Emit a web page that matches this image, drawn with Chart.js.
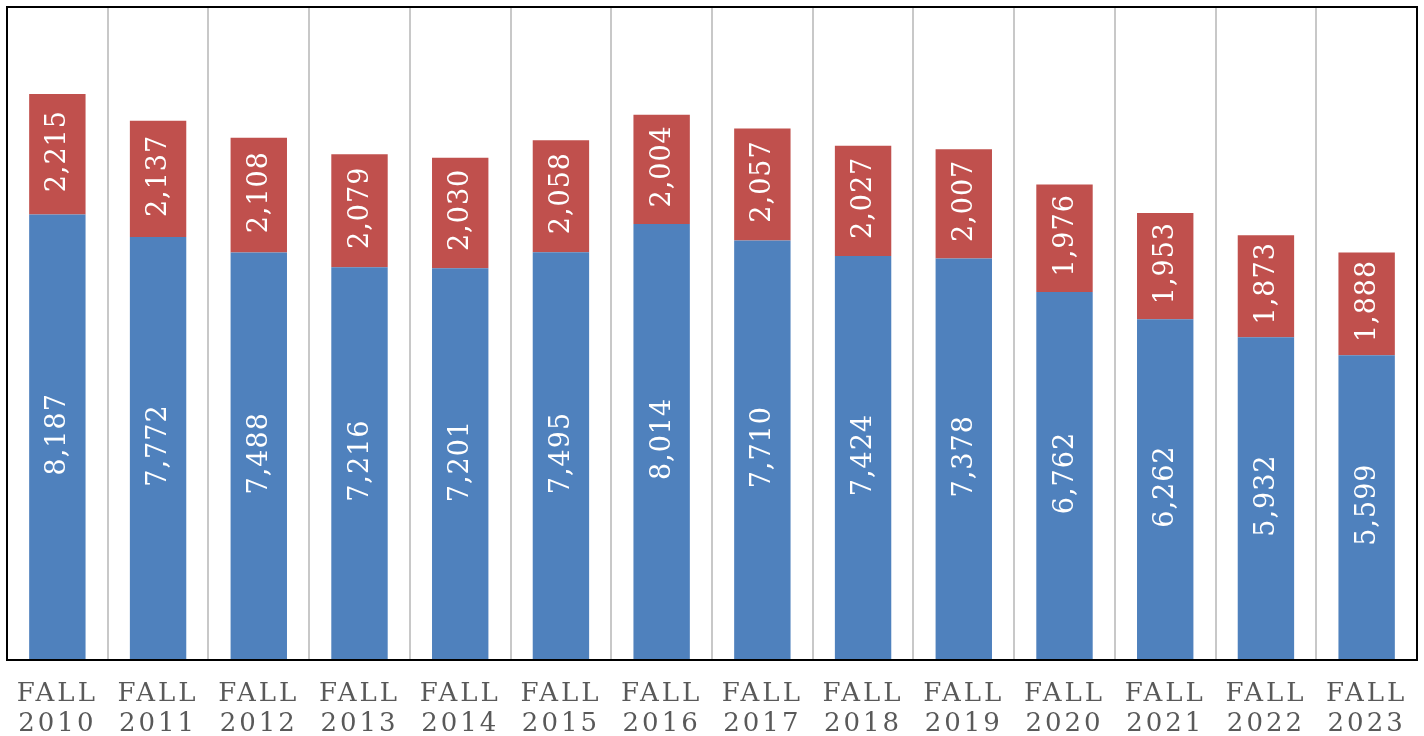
<!DOCTYPE html>
<html>
<head>
<meta charset="utf-8">
<script src="https://cdn.jsdelivr.net/npm/chart.js@4/dist/chart.umd.min.js"></script>
<style>
  html, body { margin: 0; padding: 0; background: #fff; }
  #enroll_chart { display: block; }
</style>
</head>
<body>
<canvas id="enroll_chart" width="1424" height="736"></canvas>
<script>
const terms = ["2010", "2011", "2012", "2013", "2014", "2015", "2016", "2017", "2018", "2019", "2020", "2021", "2022", "2023"];
const blueValues = [8187, 7772, 7488, 7216, 7201, 7495, 8014, 7710, 7424, 7378, 6762, 6262, 5932, 5599];
const redValues = [2215, 2137, 2108, 2079, 2030, 2058, 2004, 2057, 2027, 2007, 1976, 1953, 1873, 1888];
const yMax = 12000;

// rotated white value labels inside each segment
const barLabels = {
  id: "barLabels",
  afterDatasetsDraw(chart) {
    const ctx = chart.ctx;
    ctx.save();
    ctx.fillStyle = "#ffffff";
    ctx.font = "27px 'DejaVu Serif'";
    ctx.letterSpacing = "1px";
    ctx.textAlign = "center";
    ctx.textBaseline = "middle";
    chart.data.datasets.forEach((ds, i) => {
      chart.getDatasetMeta(i).data.forEach((bar, j) => {
        const mid = (bar.y + bar.base) / 2;
        ctx.save();
        ctx.translate(bar.x, mid);
        ctx.rotate(-Math.PI / 2);
        ctx.fillText(ds.data[j].toLocaleString("en-US"), 3, 1);
        ctx.restore();
      });
    });
    ctx.restore();
  },
};

const frame = {
  id: "frame",
  beforeDraw(chart) {
    chart.ctx.letterSpacing = "3px";
  },
  afterDraw(chart) {
    const a = chart.chartArea;
    const ctx = chart.ctx;
    ctx.save();
    ctx.strokeStyle = "#000000";
    ctx.lineWidth = 2;
    ctx.strokeRect(a.left, a.top, a.right - a.left, a.bottom - a.top);
    ctx.restore();
    ctx.letterSpacing = "0px";
  },
};

let ctx = document.getElementById("enroll_chart").getContext("2d");
let myChart = new Chart(ctx, {
  type: "bar",
  data: {
    labels: terms.map((t) => ["FALL", t]),
    datasets: [
      {
        label: "blue",
        data: blueValues,
        backgroundColor: "#4F81BD",
        barPercentage: 0.56,
        categoryPercentage: 1,
      },
      {
        label: "red",
        data: redValues,
        backgroundColor: "#C0504D",
        barPercentage: 0.56,
        categoryPercentage: 1,
      },
    ],
  },
  options: {
    responsive: false,
    animation: false,
    layout: {
      padding: { left: 7, right: 7, top: 7, bottom: 0 },
    },
    plugins: {
      legend: { display: false },
      tooltip: { enabled: false },
    },
    scales: {
      x: {
        stacked: true,
        afterFit(scale) {
          scale.height = 76;
        },
        grid: {
          offset: true,
          color: "#c8c8c8",
          lineWidth: 2,
          drawTicks: false,
        },
        border: { display: false },
        ticks: {
          color: "#595959",
          font: { family: "'DejaVu Serif'", size: 26, lineHeight: "30px" },
          padding: 19,
          maxRotation: 0,
          autoSkip: false,
        },
      },
      y: {
        stacked: true,
        display: false,
        min: 0,
        max: yMax,
      },
    },
  },
  plugins: [barLabels, frame],
});
</script>
</body>
</html>
